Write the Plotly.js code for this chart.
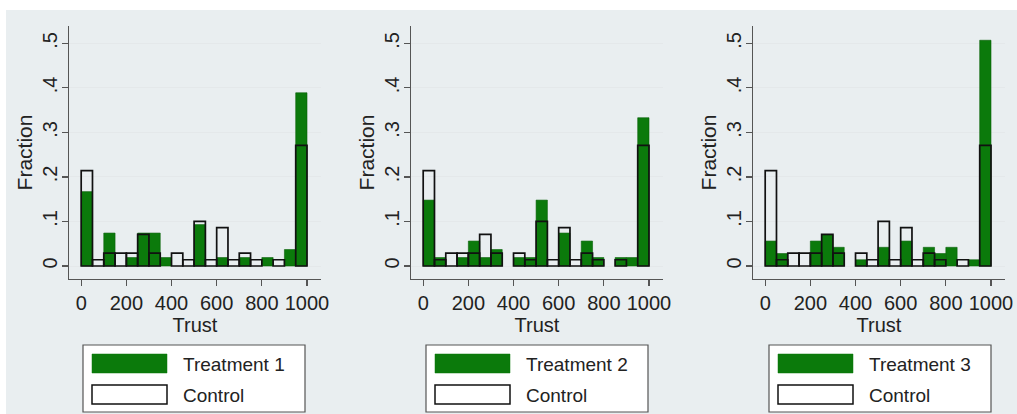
<!DOCTYPE html>
<html>
<head>
<meta charset="utf-8">
<script src="https://cdn.plot.ly/plotly-3.0.1.min.js"></script>
<style>html,body{margin:0;padding:0;background:#fff;}#chart{width:1017px;height:414px;}</style>
</head>
<body>
<div id="chart"></div>
<script>
// Bin centres of the Trust histogram (bins of width 50 from 0 to 1000)
const binCenters = [25,75,125,175,225,275,325,375,425,475,525,575,625,675,725,775,825,875,925,975];
const binWidth = 50;

// Fractions
const control    = [0.214,0.014,0.029,0.029,0.029,0.071,0.029,0,0.029,0.014,0.100,0.014,0.086,0.014,0.029,0.014,0,0.014,0,0.271];
const treatment1 = [0.167,0,0.074,0,0.019,0.074,0.074,0.019,0,0,0.093,0,0.019,0,0.019,0,0.019,0,0.037,0.389];
const treatment2 = [0.148,0.019,0,0.019,0.056,0.019,0.037,0,0.019,0.019,0.148,0,0.074,0,0.056,0.019,0,0.019,0.019,0.333];
const treatment3 = [0.056,0.028,0,0,0.056,0.070,0.042,0,0.014,0,0.042,0,0.056,0,0.042,0.028,0.042,0,0.014,0.507];

const treatmentNames = ["Treatment 1","Treatment 2","Treatment 3"];
const controlName = "Control";
const yTickVals = [0,0.1,0.2,0.3,0.4,0.5];
const yTickText = ["0",".1",".2",".3",".4",".5"];
const xTickVals = [0,200,400,600,800,1000];

const W = 1017, H = 414;
const px = x => x / W;
const py = y => 1 - y / H;
const GREEN = "#0b7a0b";
const FONT = "Liberation Sans, Arial, sans-serif";
const TXT = "#222222";

const treatments = [treatment1, treatment2, treatment3];
const nz = arr => arr.map(v => v === 0 ? null : v);

const data = [];
const layout = {
  width: W, height: H,
  margin: {l:0, r:0, t:0, b:0},
  paper_bgcolor: "#ffffff",
  plot_bgcolor: "#ffffff",
  barmode: "overlay",
  showlegend: false,
  font: {family: FONT, color: TXT, size: 19},
  shapes: [
    {type:"rect", xref:"paper", yref:"paper", x0:px(6), x1:1, y0:0, y1:py(10),
     fillcolor:"#e9eef0", line:{width:0}, layer:"below"}
  ],
  annotations: []
};

for (let i = 0; i < 3; i++) {
  const sfx = i === 0 ? "" : String(i + 1);
  const xa = "x" + sfx, ya = "y" + sfx;
  data.push({
    type:"bar", x: binCenters, y: nz(treatments[i]), width: binWidth,
    xaxis: xa, yaxis: ya, name: treatmentNames[i],
    marker:{color: GREEN, line:{color:"#086008", width:0.6}},
    hoverinfo:"skip"
  });
  data.push({
    type:"bar", x: binCenters, y: nz(control), width: binWidth,
    xaxis: xa, yaxis: ya, name: controlName,
    marker:{color:"rgba(0,0,0,0)", line:{color:"#111111", width:1.7}},
    hoverinfo:"skip"
  });
  const left = 69 + 342 * i, right = left + 252;
  layout["xaxis" + sfx] = {
    domain:[px(left), px(right)], anchor: ya, range:[-54, 1062],
    tickvals: xTickVals, ticks:"outside", ticklen:6, tickwidth:1.2, tickcolor:"#555",
    showline:true, linecolor:"#555", linewidth:1.3, showgrid:false, zeroline:false,
    tickfont:{size:20, color:TXT, family:FONT},
    title:{text:"Trust", font:{size:20, color:TXT, family:FONT}, standoff:0}
  };
  layout["yaxis" + sfx] = {
    domain:[py(279), py(26)], anchor: xa, range:[-0.0292, 0.539],
    tickvals: yTickVals, ticktext: yTickText, tickangle:-90,
    ticks:"outside", ticklen:6, tickwidth:1.2, tickcolor:"#555",
    ticklabelstandoff:-3,
    showline:true, linecolor:"#555", linewidth:1.3,
    showgrid:true, gridcolor:"#e4e8ea", gridwidth:1, zeroline:false,
    tickfont:{size:20, color:TXT, family:FONT},
    title:{text:"Fraction", font:{size:21, color:TXT, family:FONT}, standoff:0}
  };

  // legend box drawn per panel
  const o = 343 * i;
  layout.shapes.push(
    {type:"rect", xref:"paper", yref:"paper", x0:px(83+o), x1:px(305+o), y0:py(412), y1:py(345),
     fillcolor:"#ffffff", line:{color:"#555", width:1.2}},
    {type:"rect", xref:"paper", yref:"paper", x0:px(92+o), x1:px(167+o), y0:py(373), y1:py(354),
     fillcolor:GREEN, line:{color:GREEN, width:0.5}},
    {type:"rect", xref:"paper", yref:"paper", x0:px(92+o), x1:px(167+o), y0:py(404), y1:py(385),
     fillcolor:"#ffffff", line:{color:"#111", width:1.5}}
  );
  layout.annotations.push(
    {xref:"paper", yref:"paper", x:px(181+o), y:py(364), xanchor:"left", yanchor:"middle",
     text: treatmentNames[i], showarrow:false, font:{size:19, color:TXT, family:FONT}},
    {xref:"paper", yref:"paper", x:px(181+o), y:py(395), xanchor:"left", yanchor:"middle",
     text: controlName, showarrow:false, font:{size:19, color:TXT, family:FONT}}
  );
}

Plotly.newPlot("chart", data, layout, {staticPlot:true, displayModeBar:false});
</script>
</body>
</html>
